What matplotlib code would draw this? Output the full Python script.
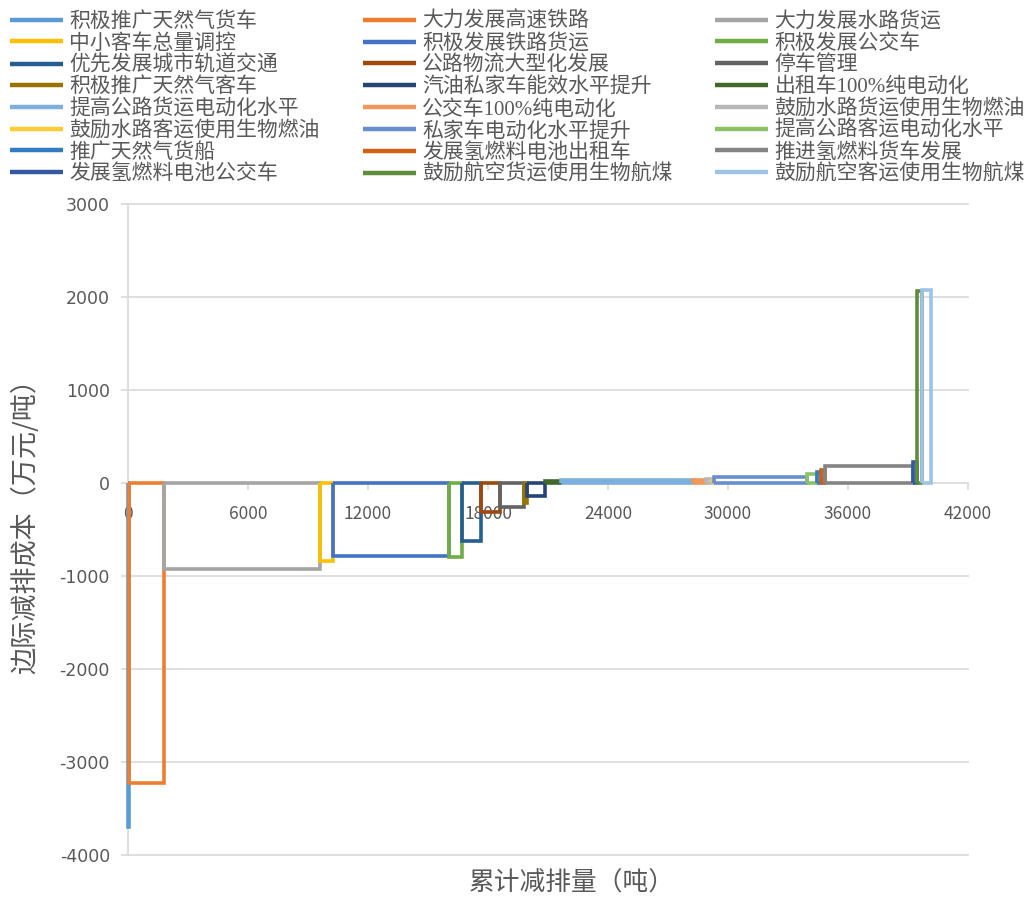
import numpy as np
import matplotlib
matplotlib.use("Agg")
import matplotlib.pyplot as plt

# ---------------- data ----------------
measures = [
    "积极推广天然气货车", "大力发展高速铁路", "大力发展水路货运",
    "中小客车总量调控", "积极发展铁路货运", "积极发展公交车",
    "优先发展城市轨道交通", "公路物流大型化发展", "停车管理",
    "积极推广天然气客车", "汽油私家车能效水平提升", "出租车100%纯电动化",
    "提高公路货运电动化水平", "公交车100%纯电动化", "鼓励水路货运使用生物燃油",
    "鼓励水路客运使用生物燃油", "私家车电动化水平提升", "提高公路客运电动化水平",
    "推广天然气货船", "发展氢燃料电池出租车", "推进氢燃料货车发展",
    "发展氢燃料电池公交车", "鼓励航空货运使用生物航煤", "鼓励航空客运使用生物航煤",
]
# abatement amount of each measure (吨)
abatement = [30, 1790, 7780, 670, 5780, 630, 970, 950, 1200, 170, 880, 800,
             6620, 630, 330, 50, 4690, 460, 200, 220, 4420, 200, 230, 450]
# marginal abatement cost (万元/吨)
cost = [-3700, -3230, -925, -835, -785, -795, -620, -310, -255, -220, -145, 20,
        30, 30, 40, 40, 60, 93, 115, 140, 187, 230, 2060, 2080]
colors = [
    "#5B9BD5", "#ED7D31", "#A5A5A5", "#FFC000", "#4472C4", "#70AD47",
    "#255E91", "#9E480E", "#636363", "#997300", "#264478", "#43682B",
    "#7CAFDD", "#F1975A", "#B7B7B7", "#FFCD33", "#698ED0", "#8CC168",
    "#327DC2", "#D26012", "#848484", "#335AA1", "#5F8B3B", "#9DC3E6",
]
x_ticks = [0, 6000, 12000, 18000, 24000, 30000, 36000, 42000]
y_ticks = [-4000, -3000, -2000, -1000, 0, 1000, 2000, 3000]
x_label = "累计减排量（吨）"
y_label = "边际减排成本（万元/吨）"

# ---------------- style ----------------
plt.rcParams["font.family"] = ["Noto Sans CJK SC", "DejaVu Sans"]
text_color = "#595959"
grid_color = "#D9D9D9"

W, H = 1035, 898
fig = plt.figure(figsize=(W / 100, H / 100), dpi=100)
ax = fig.add_axes([128 / W, 1 - 855 / H, 840 / W, 651 / H])

right = np.cumsum(abatement)
left = right - np.array(abatement)

handles = []
for i, (name, l, r, c, col) in enumerate(zip(measures, left, right, cost, colors)):
    xs = [l, l, r, r, l]
    ys = [0, c, c, 0, 0]
    ln, = ax.plot(xs, ys, color=col, lw=2.6, solid_joinstyle="miter",
                  solid_capstyle="butt", label=name, zorder=3 + i, clip_on=False)
    handles.append(ln)

ax.set_xlim(0, 42000)
ax.set_ylim(-4000, 3000)
ax.set_xticks(x_ticks)
ax.set_yticks(y_ticks)
ax.set_xticklabels([str(v) for v in x_ticks], family=["DejaVu Sans"])
ax.set_yticklabels([str(v) for v in y_ticks], family=["DejaVu Sans"])

for yv in y_ticks:
    if yv != 0:
        ax.axhline(yv, color=grid_color, lw=1.2, zorder=1, clip_on=False)

for s in ["top", "right"]:
    ax.spines[s].set_visible(False)
ax.spines["bottom"].set_position(("data", 0))
ax.spines["bottom"].set_color(grid_color)
ax.spines["bottom"].set_linewidth(1.2)
ax.spines["left"].set_color(grid_color)
ax.spines["left"].set_linewidth(1.2)

ax.tick_params(axis="x", direction="out", length=5, width=1.2, color=grid_color,
               labelcolor=text_color, labelsize=12.5, pad=11)
ax.tick_params(axis="y", direction="out", length=5, width=1.2, color=grid_color,
               labelcolor=text_color, labelsize=12.5, pad=8)

ax.set_xlabel(x_label, fontsize=18.5, color=text_color)
ax.xaxis.set_label_coords((572 - 128) / 840, (855 - 884) / 651)
ax.set_ylabel(y_label, fontsize=19.5, color=text_color)
ax.yaxis.set_label_coords((25 - 128) / 840, (855 - 520) / 651)
ax.xaxis.label.set_va("center")
ax.yaxis.label.set_va("center")

# legend: Excel order is row-major, matplotlib fills column-major
nrow, ncol = 8, 3
order = [r * ncol + c for c in range(ncol) for r in range(nrow)]
leg = fig.legend([handles[k] for k in order], [measures[k] for k in order],
                 ncol=ncol, loc="upper left", bbox_to_anchor=(10 / W, 1 - 12 / H),
                 frameon=False, fontsize=15, handlelength=2.55, handletextpad=0.3,
                 columnspacing=2.05, labelspacing=0.09, borderpad=0, borderaxespad=0,
                 labelcolor=text_color,
                 prop={"family": ["Liberation Serif", "Noto Sans CJK SC"], "size": 15})
for lh in leg.get_lines():
    lh.set_linewidth(3.2)

fig.savefig("out.png", dpi=100)
